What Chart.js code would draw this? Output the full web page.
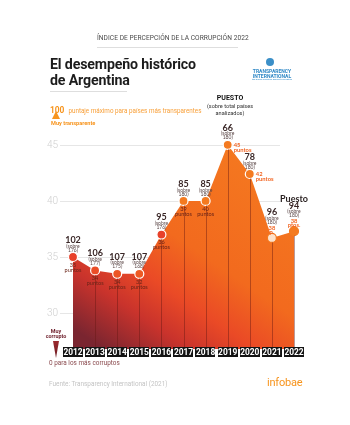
<!DOCTYPE html>
<html lang="es">
<head>
<meta charset="utf-8">
<title>El desempeño histórico de Argentina</title>
<script src="https://cdn.jsdelivr.net/npm/chart.js@4.4.1/dist/chart.umd.min.js"></script>
<style>
    html, body { margin: 0; padding: 0; background: #fff; }
    #wrap { position: relative; width: 350px; height: 425px; overflow: hidden; font-family: Roboto, sans-serif; }
    #wrap canvas { position: absolute; left: 0; top: 0; }
    .txt { position: absolute; white-space: nowrap; line-height: 1; }
    .rule { position: absolute; height: 1px; background: #dedede; }
</style>
</head>
<body>
<div id="wrap">
    <canvas id="cpiChart" width="350" height="425"></canvas>

    <div class="txt" style="left:97px; top:35px; font-size:6.6px; color:#4a4a4a; letter-spacing:0.05px;">ÍNDICE DE PERCEPCIÓN DE LA CORRUPCIÓN 2022</div>
    <div class="rule" style="left:97px; top:47px; width:141px;"></div>

    <div class="txt" style="left:50px; top:56px; font-size:14.2px; font-weight:700; color:#1c1c1c; line-height:16px; letter-spacing:-0.15px;">El desempeño histórico<br>de Argentina</div>
    <div class="rule" style="left:50px; top:91px; width:77px;"></div>

    <!-- logo Transparency International -->
    <div class="txt" style="left:266px; top:58px; width:8px; height:8px; border-radius:50%; background:#3b8fc8;"></div>
    <div class="txt" style="left:250px; top:69px; width:44px; text-align:center; font-size:5px; font-weight:700; color:#2f88c6; line-height:4.6px;">TRANSPARENCY<br>INTERNATIONAL</div>
    <div class="txt" style="left:250px; top:79px; width:44px; text-align:center; font-size:2.4px; color:#2f88c6;">the global coalition against corruption</div>

    <div class="txt" style="left:50px; top:100px; color:#f7941d;"><b style="font-size:8.4px;">100</b> <span style="font-size:6.3px; color:#f8a03a;">puntaje máximo para países más transparentes</span></div>
    <div class="txt" style="left:51px; top:121px; font-size:5.6px; font-weight:700; color:#f7941d;">Muy transparente</div>

    <div class="txt" style="left:200px; top:95px; width:60px; text-align:center; font-size:7px; font-weight:700; color:#111;">PUESTO</div>
    <div class="txt" style="left:195px; top:103px; width:70px; text-align:center; font-size:5.6px; color:#333; line-height:6.6px;">(sobre total países<br>analizados)</div>

    <div class="txt" style="left:41px; top:329px; width:30px; text-align:center; font-size:5.4px; font-weight:700; color:#6e1f2b; line-height:5.4px;">Muy<br>corrupto</div>
    <div class="txt" style="left:49px; top:360px; font-size:6.4px; color:#8a4a4e;">0 para los más corruptos</div>

    <div class="txt" style="left:49px; top:381px; font-size:6.4px; color:#c4c4c4;">Fuente: Transparency International (2021)</div>
    <div class="txt" style="left:267px; top:377px; font-size:11px; color:#f7941d; letter-spacing:-0.2px;">infobae</div>
</div>

<script>
// Datos
const years = ['2012', '2013', '2014', '2015', '2016', '2017', '2018', '2019', '2020', '2021', '2022'];
// posición dibujada de cada punto (escala 30-45)
const plotted = [35, 33.8, 33.5, 33.5, 37, 40, 40, 45, 42.4, 36.7, 37.3];
// puntaje indicado en las etiquetas
const scores = [35, 34, 34, 32, 36, 39, 40, 45, 42, 38, 38];
const ranks = [102, 106, 107, 107, 95, 85, 85, 66, 78, 96, 94];
const totals = [176, 177, 175, 168, 176, 180, 180, 180, 180, 180, 180];
const yTicks = [30, 35, 40, 45];

const pointFill = ['#e8412a', '#ea4d27', '#ec5525', '#ee5a24', '#e8412a', '#f47a20', '#f47a20', '#f47a20', '#f47a20', '#fde2cc', '#f47a20'];

/**
 * Plugin: rejilla, etiquetas de puntos y cajas de años
 */
const annotations = {
    id: 'annotations',
    beforeDatasetsDraw(chart) {
        const { ctx, chartArea, scales: { y } } = chart;
        ctx.save();
        yTicks.forEach(t => {
            const py = Math.round(y.getPixelForValue(t)) + 0.5;
            ctx.strokeStyle = '#e6e6e6';
            ctx.lineWidth = 1;
            ctx.beginPath();
            ctx.moveTo(chartArea.left - 13, py);
            ctx.lineTo(chartArea.right - 14, py);
            ctx.stroke();
            ctx.fillStyle = '#cfcfcf';
            ctx.font = '300 10px Roboto';
            ctx.textAlign = 'right';
            ctx.textBaseline = 'middle';
            ctx.fillText(String(t), chartArea.left - 15, py);
        });

        // triángulos de la escala 0-100
        const cx = chartArea.left - 17;
        ctx.fillStyle = '#f7941d';
        ctx.beginPath();
        ctx.moveTo(cx, 111);
        ctx.lineTo(cx - 4, 119);
        ctx.lineTo(cx + 4, 119);
        ctx.closePath();
        ctx.fill();

        const g = ctx.createLinearGradient(0, 341, 0, 358);
        g.addColorStop(0, '#9b2a2e');
        g.addColorStop(1, '#6b1a22');
        ctx.fillStyle = g;
        ctx.beginPath();
        ctx.moveTo(cx - 3, 341);
        ctx.lineTo(cx + 3, 341);
        ctx.lineTo(cx, 358);
        ctx.closePath();
        ctx.fill();
        ctx.restore();
    },
    afterDatasetsDraw(chart) {
        const { ctx, chartArea, scales: { x } } = chart;
        const meta = chart.getDatasetMeta(0);
        ctx.save();

        // líneas verticales dentro del área
        meta.data.forEach((pt, i) => {
            if (i === 0) return;
            ctx.strokeStyle = 'rgba(100, 22, 18, 0.55)';
            ctx.lineWidth = 0.8;
            ctx.beginPath();
            ctx.moveTo(Math.round(pt.x) + 0.5, pt.y + 4.5);
            ctx.lineTo(Math.round(pt.x) + 0.5, chartArea.bottom);
            ctx.stroke();
        });

        ctx.textAlign = 'center';
        ctx.textBaseline = 'middle';
        meta.data.forEach((pt, i) => {
            const px = pt.x;
            const py = pt.y;
            const late = i >= 9;
            const top = late ? -26 : -17;

            if (i === 10) {
                ctx.fillStyle = '#2b2222';
                ctx.font = 'bold 9px Lato';
                ctx.fillText('Puesto', px, py - 32);
            }
            ctx.fillStyle = '#3a2727';
            ctx.font = 'bold 9px Lato';
            ctx.fillText(String(ranks[i]), px, py + top + (i === 10 ? 1 : 0));
            ctx.fillStyle = '#5a4545';
            ctx.font = '5px Lato';
            ctx.fillText('(sobre', px, py + top + 6);
            ctx.fillText(totals[i] + ')', px, py + top + 10);

            if (i <= 6) {
                ctx.fillStyle = '#6a2418';
                ctx.font = '5.6px Lato';
                ctx.fillText(String(scores[i]), px, py + 8);
                ctx.fillText('puntos', px, py + 13);
            } else if (i <= 8) {
                ctx.fillStyle = '#f26522';
                ctx.font = 'bold 5.8px Lato';
                ctx.textAlign = 'left';
                ctx.fillText(String(scores[i]), px + 6, py);
                ctx.fillText('puntos', px + 6, py + 5);
                ctx.textAlign = 'center';
            } else {
                ctx.fillStyle = '#f26522';
                ctx.font = 'bold 5.8px Lato';
                ctx.fillText(String(scores[i]), px, py - 10);
                ctx.fillText(i === 9 ? 'p.' : 'ptos.', px, py - 6);
            }
        });

        // cajas de los años
        ctx.font = 'bold 8.4px Roboto';
        years.forEach((yr, i) => {
            const px = x.getPixelForValue(i);
            const w = ctx.measureText(yr).width + 1;
            ctx.fillStyle = '#141414';
            ctx.fillRect(Math.round(px - w / 2), 347, Math.round(w), 10);
            ctx.fillStyle = '#ffffff';
            ctx.fillText(yr, px, 352.5);
        });
        ctx.restore();
    }
};

const ctx = document.getElementById('cpiChart').getContext('2d');

new Chart(ctx, {
    type: 'line',
    data: {
        labels: years,
        datasets: [{
            label: 'Puntaje',
            data: plotted,
            fill: 'start',
            tension: 0,
            borderWidth: 0,
            borderColor: '#f47a20',
            clip: false,
            backgroundColor: function(context) {
                const area = context.chart.chartArea;
                if (!area) return '#f26a1e';
                const g = context.chart.ctx.createLinearGradient(area.right - 40, area.top, area.left + 30, area.bottom);
                g.addColorStop(0, '#f57b20');
                g.addColorStop(0.5, '#f26a1e');
                g.addColorStop(0.68, '#ea4a26');
                g.addColorStop(0.82, '#c9332c');
                g.addColorStop(1, '#7a2530');
                return g;
            },
            pointRadius: 4.5,
            pointBackgroundColor: pointFill,
            pointBorderColor: ['#fff', '#fff', '#fff', '#fff', '#fff', '#fff', '#fff', '#fff', '#fff', '#f47a20', '#f47a20'],
            pointBorderWidth: 1.2
        }]
    },
    options: {
        responsive: false,
        animation: false,
        layout: {
            padding: { left: 73, right: 56, top: 128, bottom: 76 }
        },
        scales: {
            x: { display: false, offset: false },
            y: { display: false, min: 26.8, max: 46.5 }
        },
        plugins: {
            legend: { display: false },
            tooltip: { enabled: false }
        }
    },
    plugins: [annotations]
});
</script>
</body>
</html>
